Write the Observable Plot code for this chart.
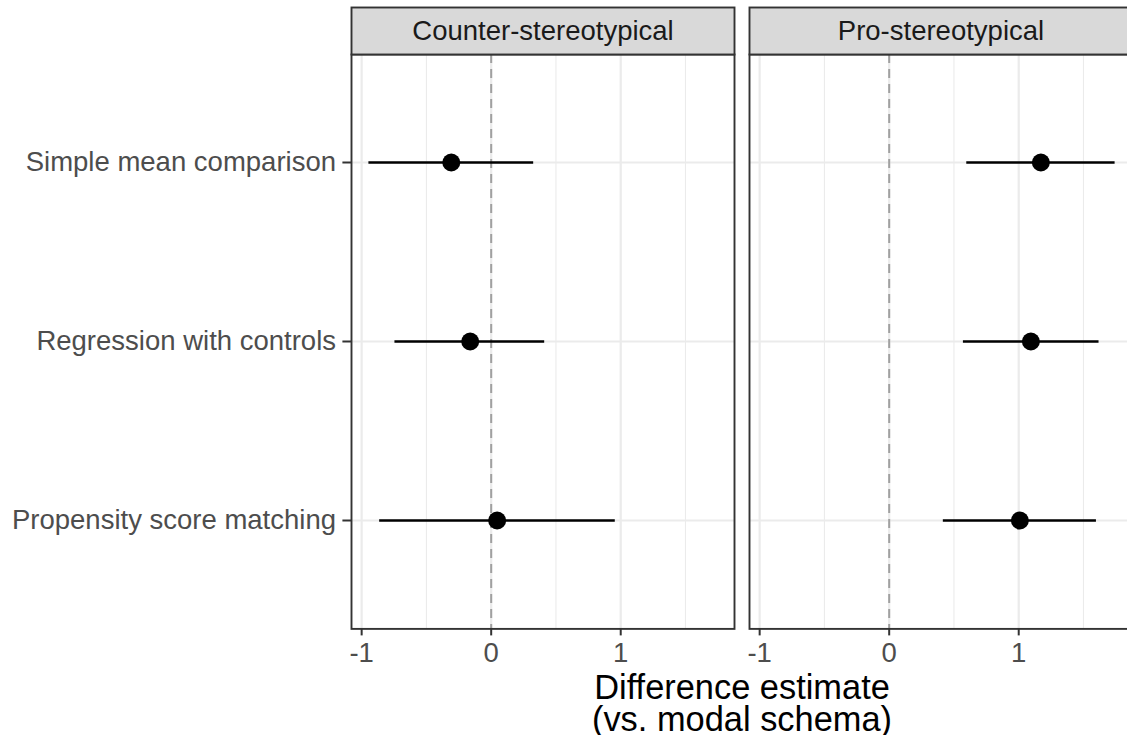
<!DOCTYPE html>
<html>
<head>
<meta charset="utf-8">
<script src="https://cdn.jsdelivr.net/npm/d3@7"></script>
<script src="https://cdn.jsdelivr.net/npm/@observablehq/plot@0.6"></script>
<style>
  html { overflow: hidden; }
  body { margin: 0; padding: 0; background: #fff; }
  #wrap { width: 1140px; }
  #title { margin-left: 351px; margin-top: -1px; width: 782px; text-align: center;
           font-family: "Liberation Sans", Arial, sans-serif; font-size: 34.4px; color: #000; }
  #title div { height: 32px; line-height: 32px; overflow: visible; }
</style>
</head>
<body>
<div id="wrap">
  <div id="chart"></div>
  <div id="title"><div>Difference estimate</div><div>(vs. modal schema)</div></div>
</div>
<script>
const methods = ["Simple mean comparison", "Regression with controls", "Propensity score matching"];
const conditions = ["Counter-stereotypical", "Pro-stereotypical"];
const counterEst = [-0.308, -0.162, 0.046];
const counterLo  = [-0.944, -0.743, -0.861];
const counterHi  = [0.328, 0.413, 0.958];
const proEst = [1.171, 1.094, 1.009];
const proLo  = [0.599, 0.573, 0.418];
const proHi  = [1.744, 1.620, 1.600];
const xTicks = [-1, 0, 1];
const xMinor = [-0.5, 0.5, 1.5];

const rows = [];
methods.forEach((m, i) => {
  rows.push({cond: conditions[0], method: m, est: counterEst[i], lo: counterLo[i], hi: counterHi[i]});
  rows.push({cond: conditions[1], method: m, est: proEst[i], lo: proLo[i], hi: proHi[i]});
});

const lo = d3.min(rows, d => d.lo), hi = d3.max(rows, d => d.hi);
const pad = (hi - lo) * 0.05;

const W = 1140, H = 672, mTop = 54, mBottom = 43.6, mLeft = 350.7, mRight = 7;
const frameH = H - mTop - mBottom;

const chart = Plot.plot({
  width: W,
  height: H,
  marginTop: mTop,
  marginBottom: mBottom,
  marginLeft: mLeft,
  marginRight: mRight,
  style: {fontFamily: "'Liberation Sans', Arial, sans-serif", fontSize: "27.5px", maxWidth: "none", background: "#fff", display: "block"},
  fx: {domain: conditions, paddingInner: 0.0376, paddingOuter: 0, axis: null},
  x: {domain: [lo - pad, hi + pad]},
  y: {domain: methods, padding: 0.6},
  marks: [
    Plot.ruleX(xMinor, {stroke: "#EBEBEB", strokeWidth: 1.1}),
    Plot.ruleX(xTicks, {stroke: "#EBEBEB", strokeWidth: 2.2}),
    Plot.ruleY(methods, {y: d => d, stroke: "#EBEBEB", strokeWidth: 2.2}),
    Plot.ruleX([0], {stroke: "#A0A0A0", strokeWidth: 2, strokeDasharray: "9,6"}),
    Plot.ruleY(rows, {fx: "cond", y: "method", x1: "lo", x2: "hi", stroke: "#000", strokeWidth: 2.6}),
    Plot.dot(rows, {fx: "cond", y: "method", x: "est", r: 9, fill: "#000", stroke: "none"}),
    Plot.frame({stroke: "#333333", strokeWidth: 1.9}),
    Plot.frame({fill: "#D9D9D9", stroke: "#333333", strokeWidth: 1.9, insetTop: -47, insetBottom: frameH}),
    Plot.text(conditions, {fx: d => d, text: d => d, frameAnchor: "top", lineAnchor: "middle", dy: -23.5, fontSize: 27.5, fill: "#1A1A1A"}),
    Plot.axisX({ticks: xTicks, tickFormat: d => String(d), tickSize: 7, tickPadding: 6.6, stroke: "#333333", strokeWidth: 2, fill: "#4D4D4D", fontSize: 27.5, label: null}),
    Plot.axisY({tickSize: 8.6, tickPadding: 6.9, stroke: "#333333", strokeWidth: 2, fill: "#4D4D4D", fontSize: 27.5, label: null})
  ]
});
document.getElementById("chart").appendChild(chart);
</script>
</body>
</html>
